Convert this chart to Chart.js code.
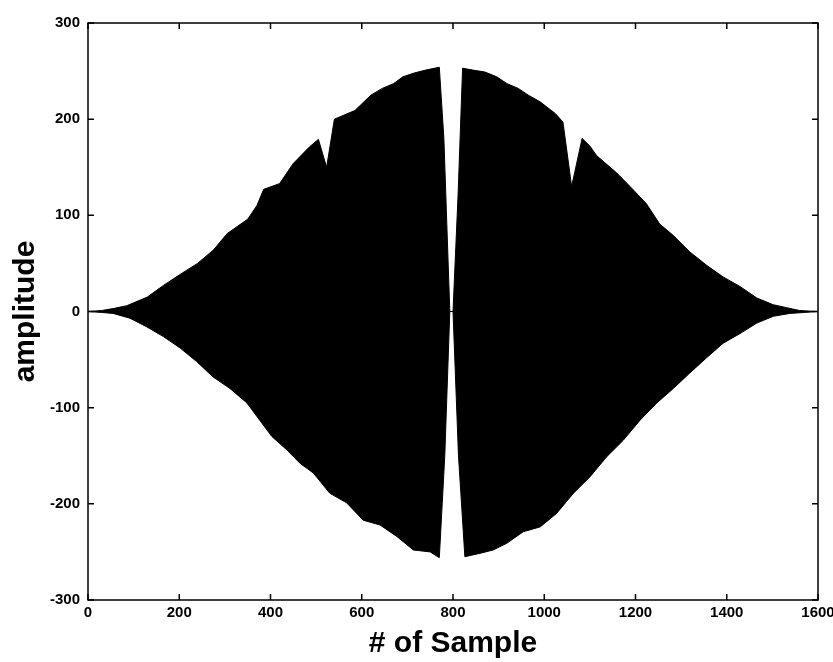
<!DOCTYPE html>
<html>
<head>
<meta charset="utf-8">
<script src="https://cdn.jsdelivr.net/npm/chart.js@4.4.1/dist/chart.umd.min.js"></script>
<style>
  html, body { margin: 0; padding: 0; background: #fff; }
  #wrap { width: 833px; height: 662px; }
</style>
</head>
<body>
<div id="wrap"><canvas id="c" width="833" height="662"></canvas></div>
<script>
// Sample indices and amplitudes of the upper (positive) envelope
const upperSamples = [0, 30, 55, 85, 100, 130, 165, 200, 240, 275, 305, 350, 370, 385, 420, 450, 485, 505, 523, 540, 560, 585, 620, 645, 670, 690, 715, 740, 770, 780, 793,
                      800, 811, 821, 844, 870, 896, 918, 943, 965, 991, 1024, 1041, 1060, 1083, 1100, 1115, 1137, 1159, 1188, 1224, 1253, 1283, 1319, 1356, 1392, 1429, 1466, 1502, 1531, 1560, 1600];
const upperValues  = [0, 1, 3, 6, 9, 15, 27, 38, 50, 64, 81, 96, 110, 127, 133, 154, 171, 179, 150, 200, 204, 209, 225, 232, 237, 244, 248, 251, 254, 180, 0,
                      0, 120, 253, 251, 249, 244, 237, 232, 225, 218, 206, 197, 130, 180, 172, 162, 153, 144, 130, 112, 91, 79, 62, 48, 36, 26, 14, 7, 4, 1, 0];
// Sample indices and amplitudes of the lower (negative) envelope
const lowerSamples = [0, 30, 55, 92, 129, 165, 202, 238, 274, 311, 348, 370, 403, 436, 465, 494, 530, 567, 603, 640, 677, 713, 750, 770, 782, 793,
                      800, 812, 826, 863, 888, 918, 954, 991, 1027, 1064, 1100, 1137, 1173, 1210, 1247, 1283, 1319, 1356, 1392, 1429, 1466, 1502, 1538, 1570, 1600];
const lowerValues  = [0, -1, -2, -7, -16, -26, -38, -52, -68, -80, -95, -109, -130, -144, -158, -168, -189, -199, -217, -222, -234, -248, -250, -256, -150, 0,
                      0, -150, -255, -251, -248, -241, -229, -224, -210, -189, -172, -151, -134, -113, -95, -80, -64, -48, -33, -23, -12, -5, -2, -1, 0];
// Axis ticks
const xTickValues = [0, 200, 400, 600, 800, 1000, 1200, 1400, 1600];
const yTickValues = [-300, -200, -100, 0, 100, 200, 300];

const toPoints = (xs, ys) => xs.map((s, i) => ({ x: s, y: ys[i] }));

const boxTicks = {
  id: 'boxTicks',
  afterDatasetsDraw(chart) {
    const { ctx, chartArea: { left, right, top, bottom }, scales: { x, y } } = chart;
    ctx.save();
    ctx.strokeStyle = '#000';
    ctx.lineWidth = 1.5;
    ctx.strokeRect(left, top, right - left, bottom - top);
    ctx.beginPath();
    const tl = 6;
    xTickValues.forEach(v => {
      const px = x.getPixelForValue(v);
      ctx.moveTo(px, bottom); ctx.lineTo(px, bottom - tl);
      ctx.moveTo(px, top); ctx.lineTo(px, top + tl);
    });
    yTickValues.forEach(v => {
      const py = y.getPixelForValue(v);
      ctx.moveTo(left, py); ctx.lineTo(left + tl, py);
      ctx.moveTo(right, py); ctx.lineTo(right - tl, py);
    });
    ctx.stroke();
    ctx.restore();
  }
};

const FONT = "'Liberation Sans', Arial, sans-serif";

new Chart(document.getElementById('c'), {
  type: 'line',
  data: {
    datasets: [
      { label: 'upper', data: toPoints(upperSamples, upperValues), borderColor: '#000', backgroundColor: '#000',
        borderWidth: 1, pointRadius: 0, fill: '+1', tension: 0 },
      { label: 'lower', data: toPoints(lowerSamples, lowerValues), borderColor: '#000', backgroundColor: '#000',
        borderWidth: 1, pointRadius: 0, fill: false, tension: 0 }
    ]
  },
  options: {
    responsive: false,
    animation: false,
    devicePixelRatio: 1,
    layout: { padding: { top: 23, right: 15, left: 0, bottom: 0 } },
    plugins: { legend: { display: false }, tooltip: { enabled: false } },
    scales: {
      x: {
        type: 'linear', min: 0, max: 1600,
        grid: { display: false, drawTicks: false },
        border: { display: false },
        afterBuildTicks: s => { s.ticks = xTickValues.map(v => ({ value: v })); },
        ticks: { color: '#000', font: { family: FONT, size: 15, weight: 'bold' }, padding: 4, maxRotation: 0, autoSkip: false,
                 callback: v => String(v) },
        title: { display: true, text: '# of Sample', color: '#000', font: { family: FONT, size: 30, weight: 'bold', lineHeight: 1.1 }, padding: { top: 0, bottom: 2 } },
        afterFit: s => { s.height = 62; s.paddingLeft = 0; s.paddingRight = 0; }
      },
      y: {
        type: 'linear', min: -300, max: 300,
        grid: { display: false, drawTicks: false },
        border: { display: false },
        afterBuildTicks: s => { s.ticks = yTickValues.map(v => ({ value: v })); },
        ticks: { color: '#000', font: { family: FONT, size: 15, weight: 'bold' }, padding: 8, callback: v => String(v) },
        title: { display: true, text: 'amplitude', color: '#000', font: { family: FONT, size: 30, weight: 'bold', lineHeight: 1.2 }, padding: { top: 8, bottom: 0 } },
        afterFit: s => { s.width = 88; s.paddingTop = 0; s.paddingBottom = 0; }
      }
    }
  },
  plugins: [boxTicks]
});
</script>
</body>
</html>
